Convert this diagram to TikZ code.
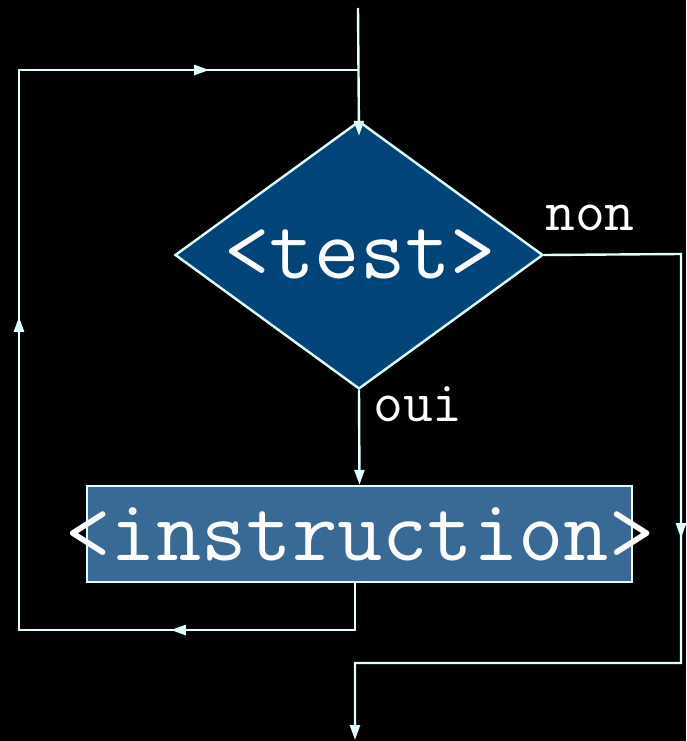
\documentclass[tikz,border=0pt]{standalone}
\usepackage{fontspec}
\usetikzlibrary{shapes.geometric,arrows.meta,decorations.markings}
\definecolor{ln}{RGB}{224,255,255}
\definecolor{dfill}{RGB}{0,69,122}
\definecolor{bfill}{RGB}{57,106,149}
\begin{document}
\begin{tikzpicture}[x=1pt,y=-1pt,
  conn/.style={draw=ln,line width=2.4pt},
  tipend/.style={-{Triangle[length=15pt,width=10pt,color=ln]}},
  bigtext/.style={text=white,font=\ttfamily\fontsize{88}{88}\selectfont,inner sep=0pt},
  smalltext/.style={text=white,font=\ttfamily\fontsize{58}{58}\selectfont,inner sep=0pt},
  arrowsat/.style={postaction={decorate,decoration={markings,#1}}}]
\fill[black] (0,0) rectangle (686,741);
\useasboundingbox (0,0) rectangle (686,741);
% nodes
\node[diamond,draw=ln,fill=dfill,line width=2.4pt,minimum width=368pt,minimum height=268pt,inner sep=0pt] (test) at (359,255) {};
\node[bigtext] (testlbl) at (360,254) {<test>};
\node[draw=ln,fill=bfill,line width=2.4pt,minimum width=545pt,minimum height=96pt,inner sep=0pt] (instr) at (359.5,534) {};
\node[bigtext] (instrlbl) at (360,534) {<instruction>};
\node[smalltext] (oui) at (418,404) {oui};
\node[smalltext] (non) at (590,218) {non};
% coordinates
\coordinate (start) at (358,8);
\coordinate (jn) at (358,70);
\coordinate (c1) at (19,70);
\coordinate (c2) at (19,630);
\coordinate (c3) at (355,630);
\coordinate (r1) at (681,254);
\coordinate (r2) at (681,663);
\coordinate (r3) at (355,663);
\coordinate (endpt) at (355,740);
% connectors
\draw[conn,tipend] (start) -- ([yshift=-16pt]test.north);
\draw[conn,tipend] (test.south) -- (instr.north);
\draw[conn,line join=miter,arrowsat={mark=at position 231pt with {\arrow[ln]{Triangle[length=15pt,width=10pt]}},mark=at position 696pt with {\arrow[ln]{Triangle[length=15pt,width=10pt]}},mark=at position 1133pt with {\arrow[ln]{Triangle[length=15pt,width=10pt]}}}]
  (instr.south -| c3) -- (c3) -- (c2) -- (c1) -- (jn);
\draw[conn,line join=miter,tipend,arrowsat={mark=at position 421pt with {\arrow[ln]{Triangle[length=15pt,width=10pt]}}}]
  (test.east) -- (r1) -- (r2) -- (r3) -- (endpt);
\end{tikzpicture}
\end{document}
